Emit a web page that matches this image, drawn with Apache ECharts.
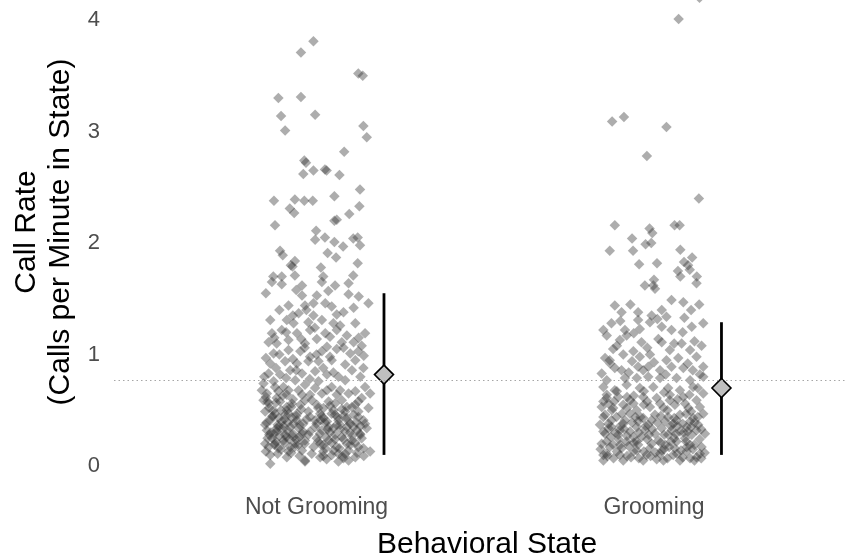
<!DOCTYPE html>
<html><head><meta charset="utf-8">
<script src="https://cdn.jsdelivr.net/npm/echarts@6/dist/echarts.min.js"></script>
<style>html,body{margin:0;padding:0;background:#fff}#c{width:846px;height:560px}</style>
</head><body><div id="c"></div><script>
// ---- data ----
const categories = ['Not Grooming', 'Grooming'];
const yTickValues = [0, 1, 2, 3, 4];
const xTitle = 'Behavioral State';
const yTitle = 'Call Rate\n(Calls per Minute in State)';

// [horizontal jitter from category centre, call rate]
const notGroomingPoints = [
[-0.009,3.81],[-0.046,3.71],[0.124,3.52],[0.137,3.50],[-0.113,3.30],[-0.046,3.31],[-0.105,3.14],[-0.004,3.15],[-0.093,3.01],[0.139,3.05],[0.149,2.95],[0.082,2.82],[-0.036,2.74],[-0.031,2.72],[-0.039,2.62],[-0.009,2.65],[0.025,2.66],[0.030,2.65],[0.068,2.61],[0.129,2.48],[-0.126,2.38],[-0.064,2.39],[-0.036,2.38],[-0.011,2.38],[0.053,2.42],[-0.079,2.31],[-0.066,2.27],[0.127,2.33],[0.097,2.26],[-0.123,2.16],[0.053,2.20],[0.060,2.21],[-0.001,2.11],[-0.004,2.03],[0.025,2.05],[0.053,2.01],[0.079,1.97],[0.109,2.04],[0.122,2.05],[0.129,1.98],[-0.108,1.93],[-0.100,1.89],[0.033,1.91],[0.058,1.87],[-0.064,1.84],[-0.076,1.80],[-0.071,1.79],[0.013,1.78],[0.122,1.82],[-0.128,1.70],[-0.103,1.70],[-0.064,1.71],[0.020,1.70],[0.109,1.71],
[-0.132,1.65],[-0.103,1.63],[-0.043,1.62],[0.016,1.65],[0.055,1.62],[0.095,1.64],
[-0.043,1.53],[0.001,1.53],[-0.009,1.46],[0.095,1.54],[0.154,1.46],[-0.083,1.44],[-0.034,1.44],[0.026,1.46],[0.045,1.43],
[-0.053,1.37],[-0.009,1.35],[0.080,1.38],[-0.137,1.31],[-0.088,1.31],[-0.068,1.28],[-0.024,1.29],[0.016,1.31],[0.050,1.28],[0.115,1.28],
[-0.132,1.19],[-0.103,1.22],[-0.058,1.19],[-0.019,1.22],[0.026,1.19],[0.060,1.22],[0.090,1.17],[0.144,1.19],
[-0.142,1.11],[-0.118,1.10],[-0.083,1.13],[-0.034,1.10],[0.001,1.14],[0.031,1.07],[0.075,1.11],[0.110,1.11],[0.134,1.08],
[-0.127,1.01],[-0.083,1.04],[-0.048,1.03],[-0.019,0.98],[0.016,1.03],[0.060,1.05],[0.100,1.01],[0.124,1.03],
[-0.137,0.92],[-0.093,0.94],[-0.058,0.92],[-0.024,0.94],[0.006,0.94],[0.045,0.95],[0.085,0.91],[0.115,0.95],[0.139,0.88],
[-0.142,0.83],[-0.108,0.82],[-0.078,0.86],[-0.043,0.83],[-0.004,0.85],[0.031,0.82],[0.065,0.80],[0.105,0.86],
[-0.157,0.74],[-0.127,0.76],[-0.098,0.71],[-0.063,0.77],[-0.034,0.73],[0.006,0.76],[0.045,0.71],[0.085,0.77],[0.144,0.71],
[-0.147,0.65],[-0.113,0.67],[-0.088,0.64],[-0.053,0.68],[-0.019,0.64],[0.016,0.65],[0.060,0.64],[0.095,0.65],[0.159,0.65],
[-0.142,0.56],[-0.108,0.58],[-0.073,0.56],[-0.034,0.59],[0.001,0.55],[0.036,0.58],[0.075,0.59],[0.115,0.55],[0.134,0.61],
[-0.152,0.49],[-0.123,0.47],[-0.088,0.50],[-0.058,0.47],[-0.024,0.49],[0.011,0.47],[0.050,0.50],[0.085,0.49],[0.124,0.49],[0.154,0.52],
[-0.137,0.41],[-0.103,0.40],[-0.073,0.43],[-0.039,0.38],[-0.004,0.41],[0.031,0.40],[0.065,0.41],[0.100,0.38],[0.139,0.41],
[-0.147,0.32],[-0.118,0.34],[-0.083,0.31],[-0.053,0.34],[-0.019,0.31],[0.016,0.32],[0.050,0.34],[0.085,0.31],[0.120,0.32],[0.149,0.34],
[-0.132,0.25],[-0.098,0.23],[-0.068,0.26],[-0.034,0.23],[0.001,0.25],[0.036,0.23],[0.075,0.26],[0.105,0.23],[0.134,0.25],
[-0.142,0.17],[-0.113,0.16],[-0.078,0.17],[-0.043,0.14],[-0.009,0.17],[0.026,0.16],[0.060,0.17],[0.095,0.14],[0.124,0.17],[0.159,0.13],
[-0.137,0.10],[-0.088,0.08],[-0.034,0.05],[0.011,0.08],[0.045,0.10],[0.080,0.07],[0.115,0.08],
[-0.137,0.02],[-0.034,0.04],[0.065,0.04],
[-0.162,0.68],[-0.123,0.71],[-0.083,0.68],[-0.043,0.64],[-0.004,0.70],[0.031,0.68],[0.070,0.68],[0.115,0.67],
[-0.157,0.59],[-0.118,0.61],[-0.088,0.53],[-0.048,0.55],[-0.014,0.59],[0.021,0.52],[0.055,0.56],[0.090,0.53],[0.124,0.58],
[-0.132,0.44],[-0.093,0.46],[-0.058,0.41],[-0.019,0.44],[0.021,0.43],[0.055,0.46],[0.090,0.43],[0.124,0.44],
[-0.152,0.37],[-0.113,0.35],[-0.078,0.35],[-0.043,0.29],[-0.004,0.35],[0.036,0.35],[0.070,0.37],[0.110,0.35],[0.144,0.38],
[-0.127,0.29],[-0.093,0.28],[-0.063,0.20],[-0.024,0.28],[0.011,0.20],[0.055,0.28],[0.090,0.20],[0.129,0.29],
[-0.152,0.20],[-0.123,0.20],[-0.083,0.13],[-0.053,0.19],[-0.014,0.11],[0.021,0.19],[0.065,0.11],[0.100,0.19],[0.139,0.16],
[-0.150,0.62],[-0.120,0.57],[-0.100,0.63],[-0.070,0.60],[-0.140,0.52],[-0.105,0.50],[-0.075,0.53],[-0.045,0.51],[-0.130,0.45],[-0.095,0.42],[-0.060,0.45],[-0.030,0.42],[-0.148,0.39],[-0.115,0.37],[-0.085,0.39],[-0.050,0.37],[-0.135,0.30],[-0.100,0.33],[-0.070,0.29],[-0.040,0.31],[-0.145,0.25],[-0.110,0.27],[-0.080,0.24],[-0.050,0.26],[-0.125,0.19],[-0.095,0.21],[-0.065,0.17],[-0.035,0.20],[-0.150,0.13],[-0.115,0.11],[-0.075,0.12],[-0.050,0.09],
[0.005,0.52],[0.040,0.54],[0.075,0.51],[0.105,0.53],[0.015,0.45],[0.045,0.47],[0.080,0.45],[0.110,0.46],[0.000,0.38],[0.025,0.39],[0.060,0.37],[0.095,0.40],[0.130,0.36],[0.010,0.29],[0.040,0.30],[0.070,0.33],[0.100,0.30],[0.130,0.28],[0.005,0.22],[0.045,0.21],[0.080,0.24],[0.115,0.21],[0.020,0.13],[0.050,0.14],[0.085,0.11],[0.120,0.12],[0.030,0.06],[0.095,0.05],[0.140,0.09],
[-0.155,0.80],[-0.120,0.88],[-0.090,0.79],[-0.060,0.86],[-0.020,0.78],[0.020,0.88],[0.050,0.84],[0.130,0.80],[-0.150,0.97],[-0.110,1.00],[-0.070,0.96],[-0.035,1.06],[0.000,1.00],[0.040,0.98],[0.080,1.06],[0.140,0.99],[-0.125,1.15],[-0.090,1.20],[-0.045,1.14],[-0.005,1.24],[0.040,1.16],[0.070,1.26],[0.125,1.15],[-0.110,1.40],[-0.070,1.35],[-0.030,1.40],[0.060,1.36],[0.110,1.42],[-0.150,1.55],[-0.060,1.58],[0.035,1.57],[0.125,1.52],
[-0.145,0.58],[-0.128,0.50],[-0.112,0.43],[-0.098,0.36],[-0.140,0.28],[-0.120,0.22],[-0.090,0.26],[-0.105,0.15],[-0.068,0.38],[-0.082,0.47],[-0.118,0.31],[-0.060,0.24],[0.012,0.41],[0.033,0.33],[0.055,0.24],[0.068,0.16],[0.090,0.35],[0.105,0.27],[0.028,0.26],[0.062,0.44],[0.118,0.39],[0.020,0.09],[0.078,0.09]
];

const groomingPoints = [
[0.135,4.20],[0.073,4.01],[-0.124,3.09],[-0.089,3.13],[0.037,3.04],[-0.021,2.78],[0.133,2.40],[-0.116,2.16],[-0.013,2.13],[-0.005,2.09],[0.061,2.16],[0.076,2.16],[-0.065,2.04],[-0.131,1.93],[-0.062,1.93],[-0.025,1.99],[-0.008,2.00],[0.078,1.94],[-0.044,1.81],[0.009,1.82],[0.089,1.83],[0.101,1.80],[0.113,1.87],[0.071,1.75],[0.106,1.76],[0.078,1.70],[0.127,1.70],[0.000,1.67],
[-0.027,1.62],[-0.002,1.62],[0.003,1.59],[0.126,1.64],[0.052,1.49],[0.087,1.47],[0.134,1.45],[-0.116,1.44],[-0.096,1.38],[-0.047,1.38],[-0.007,1.35],[0.023,1.40],[0.037,1.34],[-0.047,1.31],[-0.012,1.29],[-0.126,1.28],[-0.086,1.22],[-0.042,1.23],[0.023,1.25],[0.052,1.22],[0.112,1.25],[0.146,1.28],[-0.140,1.17],[-0.101,1.13],[-0.081,1.17],[-0.037,1.11],[0.013,1.14],[0.023,1.11],[0.082,1.10],[0.141,1.08],[0.047,1.04],[0.107,1.04],[-0.121,1.05],[-0.061,1.03],[-0.145,0.97],[-0.131,0.95],[-0.091,1.00],[-0.042,0.98],[-0.012,1.00],[0.037,0.95],[0.072,0.97],[0.126,0.98],[-0.116,0.88],[-0.096,0.86],[-0.047,0.89],[-0.032,0.86],[-0.017,0.89],[0.018,0.86],[0.052,0.89],[0.087,0.88],[0.146,0.89],[0.136,0.82],[-0.140,0.77],[-0.086,0.79],[-0.051,0.79],[-0.017,0.80],[0.018,0.79],[0.067,0.79],[0.107,0.77],[0.146,0.80],
[-0.150,0.71],[-0.116,0.68],[-0.081,0.73],[-0.042,0.70],[-0.002,0.71],[0.042,0.70],[0.077,0.68],[0.116,0.71],[0.146,0.65],
[-0.140,0.61],[-0.106,0.62],[-0.071,0.59],[-0.032,0.62],[0.008,0.61],[0.047,0.59],[0.087,0.62],[0.126,0.59],
[-0.155,0.53],[-0.121,0.52],[-0.091,0.55],[-0.051,0.50],[-0.012,0.53],[0.028,0.52],[0.062,0.55],[0.102,0.52],[0.136,0.53],
[-0.145,0.46],[-0.111,0.44],[-0.071,0.47],[-0.032,0.43],[0.003,0.46],[0.042,0.44],[0.077,0.46],[0.116,0.43],[0.146,0.47],
[-0.160,0.37],[-0.126,0.35],[-0.091,0.38],[-0.051,0.35],[-0.017,0.37],[0.023,0.34],[0.057,0.38],[0.097,0.35],[0.131,0.37],
[-0.145,0.29],[-0.106,0.28],[-0.071,0.31],[-0.037,0.26],[0.003,0.29],[0.042,0.28],[0.077,0.31],[0.112,0.28],[0.151,0.29],
[-0.155,0.20],[-0.121,0.19],[-0.081,0.22],[-0.047,0.19],[-0.007,0.20],[0.033,0.19],[0.067,0.22],[0.107,0.19],[0.141,0.17],
[-0.140,0.11],[-0.101,0.10],[-0.061,0.13],[-0.022,0.10],[0.018,0.11],[0.057,0.10],[0.097,0.13],[0.126,0.08],
[-0.150,0.05],[-0.091,0.05],[-0.032,0.05],[0.028,0.05],[0.077,0.05],[0.107,0.07],
[-0.135,0.34],[-0.101,0.32],[-0.061,0.26],[-0.027,0.32],[0.013,0.23],[0.052,0.32],[0.092,0.25],[0.126,0.32],
[-0.131,0.17],[-0.096,0.16],[-0.051,0.14],[-0.012,0.16],[0.023,0.14],[0.062,0.16],[0.097,0.17],[0.136,0.11],
[-0.126,0.41],[-0.086,0.41],[-0.047,0.40],[-0.007,0.41],[0.033,0.40],[0.067,0.41],[0.107,0.40],
[-0.135,0.56],[-0.061,0.56],[0.018,0.56],[0.092,0.56],[-0.140,0.64],[0.047,0.64],
[-0.150,0.10],[-0.120,0.07],[-0.080,0.09],[-0.045,0.07],[-0.010,0.09],[0.040,0.07],[0.085,0.08],[0.120,0.05],[0.150,0.12],[-0.158,0.15],[-0.110,0.13],[-0.075,0.18],[-0.030,0.13],[0.005,0.12],[0.045,0.17],[0.080,0.14],[0.115,0.15],[-0.140,0.22],[-0.105,0.24],[-0.060,0.21],[-0.020,0.24],[0.020,0.21],[0.060,0.25],[0.095,0.22],[0.135,0.24],[-0.150,0.31],[-0.115,0.30],[-0.080,0.27],[-0.045,0.30],[-0.005,0.33],[0.030,0.28],[0.065,0.29],[0.100,0.31],[0.140,0.33],[-0.135,0.38],[-0.100,0.36],[-0.065,0.39],[-0.025,0.36],[0.010,0.39],[0.050,0.36],[0.085,0.38],[0.120,0.39],[-0.150,0.44],[-0.095,0.47],[-0.055,0.44],[0.020,0.45],[0.060,0.43],[0.095,0.47],[0.130,0.44],[-0.125,0.50],[-0.080,0.52],[-0.030,0.55],[0.040,0.50],[0.110,0.49],[-0.150,0.58],[-0.060,0.63],[-0.020,0.58],[0.070,0.60],[0.105,0.64],[-0.110,0.67],[-0.030,0.67],[0.030,0.66],[0.130,0.70],
[-0.155,0.83],[-0.075,0.84],[0.035,0.82],[0.115,0.86],[-0.130,0.92],[-0.065,0.94],[0.000,0.93],[0.100,0.92],[-0.110,1.08],[-0.020,1.06],[0.060,1.10],[0.120,1.12],[-0.150,1.22],[-0.060,1.19],[0.085,1.20],[-0.100,1.30],[0.010,1.32],[0.090,1.33],[-0.070,1.45],[0.110,1.40],
[-0.128,0.26],[-0.088,0.33],[-0.052,0.22],[-0.015,0.28],[0.050,0.22],[0.088,0.30],[0.120,0.19],[-0.138,0.09],[-0.068,0.08],[0.008,0.06],[0.068,0.11],[0.140,0.07],[-0.100,0.19],[0.030,0.15],[0.110,0.35],[-0.040,0.44],[0.070,0.36],[-0.118,0.58],[-0.080,0.62]
];

const meanRates = [0.82, 0.70];
const lowerRates = [0.10, 0.10];
const upperRates = [1.55, 1.29];
const referenceRate = 0.77;
const summaryOffset = 0.2;

// ---- build ----
const FONT = "'Liberation Sans', Arial, Helvetica, sans-serif";
const pts = [];
[notGroomingPoints, groomingPoints].forEach((arr, i) => {
  arr.forEach(p => pts.push([i + 1 + p[0], p[1]]));
});
const summary = categories.map((c, i) => [i + 1 + summaryOffset, meanRates[i], lowerRates[i], upperRates[i]]);

const chart = echarts.init(document.getElementById('c'), null, {renderer: 'canvas'});
chart.setOption({
  animation: false,
  backgroundColor: '#ffffff',
  grid: {left: 114, right: 0, top: 0, bottom: 82.8, containLabel: false, outerBoundsMode: 'none'},
  xAxis: {
    type: 'value', min: 0.4, max: 2.569, interval: 0.2,
    axisLine: {show: false}, axisTick: {show: false}, splitLine: {show: false},
    axisLabel: {
      margin: 19, color: '#4d4d4d', fontSize: 23, fontFamily: FONT, showMinLabel: true, showMaxLabel: true,
      formatter: v => {
        for (let i = 0; i < categories.length; i++) if (Math.abs(v - (i + 1)) < 1e-6) return categories[i];
        return '';
      }
    }
  },
  yAxis: {
    type: 'value', min: -0.1, max: 4.18, interval: 0.1,
    axisLine: {show: false}, axisTick: {show: false}, splitLine: {show: false},
    axisLabel: {
      margin: 14, color: '#4d4d4d', fontSize: 22, fontFamily: FONT,
      formatter: v => {
        for (const t of yTickValues) if (Math.abs(v - t) < 1e-6) return String(t);
        return '';
      }
    }
  },
  graphic: [
    {type: 'text', x: 487, y: 545, z: 10,
     style: {text: xTitle, font: '30px ' + FONT, fill: '#000', align: 'center', verticalAlign: 'middle'}},
    {type: 'text', x: 44, y: 232, rotation: Math.PI / 2, z: 10,
     style: {text: yTitle, font: '30px ' + FONT, fill: '#000', align: 'center', verticalAlign: 'middle', lineHeight: 34}}
  ],
  series: [
    {
      type: 'line', data: [], z: 1, silent: true,
      markLine: {silent: true, symbol: 'none', label: {show: false},
        lineStyle: {type: [1.5, 3], color: '#a6a6a6', width: 1},
        data: [{yAxis: referenceRate}]}
    },
    {
      type: 'scatter', data: pts, z: 2, symbol: 'diamond', symbolSize: 10.5, clip: false,
      itemStyle: {color: 'rgba(51,51,51,0.5)'}, silent: true
    },
    {
      type: 'custom', z: 3, silent: true,
      data: summary,
      renderItem: (params, api) => {
        const x = api.value(0);
        const lo = api.coord([x, api.value(2)]);
        const hi = api.coord([x, api.value(3)]);
        return {type: 'line', shape: {x1: lo[0], y1: lo[1], x2: hi[0], y2: hi[1]},
          style: {stroke: '#000', lineWidth: 2.8}};
      }
    },
    {
      type: 'scatter', z: 4, silent: true, symbol: 'diamond', symbolSize: 19,
      data: summary.map(s => [s[0], s[1]]),
      itemStyle: {color: '#bfbfbf', borderColor: '#000', borderWidth: 1.6, opacity: 1}
    }
  ]
});
</script></body></html>
